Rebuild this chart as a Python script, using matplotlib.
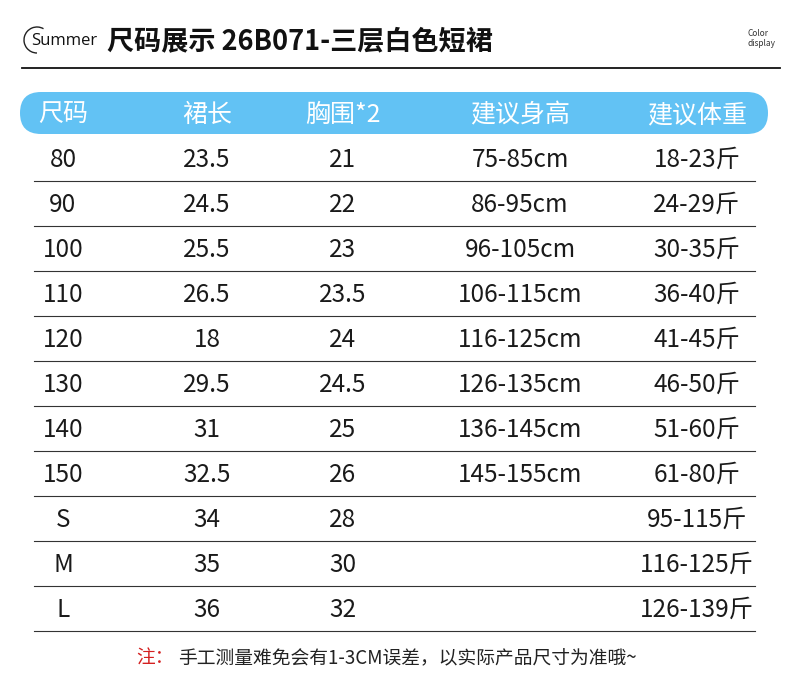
import matplotlib
matplotlib.use("Agg")
import matplotlib.pyplot as plt
from matplotlib.patches import FancyBboxPatch, Arc

plt.rcParams['font.family'] = ['Noto Sans CJK SC', 'DejaVu Sans']

headers = ["尺码", "裙长", "胸围*2", "建议身高", "建议体重"]
sizes = ["80", "90", "100", "110", "120", "130", "140", "150", "S", "M", "L"]
skirt_len = ["23.5", "24.5", "25.5", "26.5", "18", "29.5", "31", "32.5", "34", "35", "36"]
chest = ["21", "22", "23", "23.5", "24", "24.5", "25", "26", "28", "30", "32"]
height = ["75-85cm", "86-95cm", "96-105cm", "106-115cm", "116-125cm", "126-135cm",
          "136-145cm", "145-155cm", "", "", ""]
weight = ["18-23斤", "24-29斤", "30-35斤", "36-40斤", "41-45斤", "46-50斤",
          "51-60斤", "61-80斤", "95-115斤", "116-125斤", "126-139斤"]
title = "尺码展示 26B071-三层白色短裙"
note_red = "注："
note = "手工测量难免会有1-3CM误差，以实际产品尺寸为准哦~"

fig = plt.figure(figsize=(7.9, 6.88), dpi=100)
ax = fig.add_axes([0, 0, 1, 1])
ax.set_xlim(0, 790)
ax.set_ylim(688, 0)
ax.axis('off')

# title area
ax.add_patch(Arc((37, 40), 26, 26, theta1=90, theta2=300, color='#222222', lw=1))
ax.text(31, 41, "Summer", fontsize=12, va='center', ha='left', color='#111111', family=['Open Sans'])
ax.text(107, 42, title, fontsize=19.5, fontweight='bold', va='center', ha='left', color='#111111')
ax.text(747, 34, "Color", fontsize=6, va='center', ha='left', color='#333333')
ax.text(747, 44, "display", fontsize=6, va='center', ha='left', color='#333333')
ax.plot([22, 780], [68, 68], color='#111111', lw=1.3)

# header bar
ax.add_patch(FancyBboxPatch((20, 92), 748, 42, boxstyle="round,pad=0,rounding_size=21",
                            fc='#62c2f4', ec='none', mutation_aspect=1))
cols = [63, 207, 343, 520, 697]
for c, h in zip(cols, headers):
    ax.text(c, 115, h, fontsize=18, color='white', ha='center', va='center')

# rows
y0, dy = 158, 45
for i in range(len(sizes)):
    y = y0 + i * dy
    for c, v in zip(cols, [sizes[i], skirt_len[i], chest[i], height[i], weight[i]]):
        ax.text(c, y + 2, v, fontsize=17.5, color='#1a1a1a', ha='center', va='center')
    ax.plot([34, 755], [y + 23, y + 23], color='#333333', lw=0.8)

# note
ax.text(136, 658, note_red, fontsize=13.5, color='#d42020', ha='left', va='center')
ax.text(178, 658, note, fontsize=13.5, color='#222222', ha='left', va='center')

fig.savefig("out.png", dpi=100)
